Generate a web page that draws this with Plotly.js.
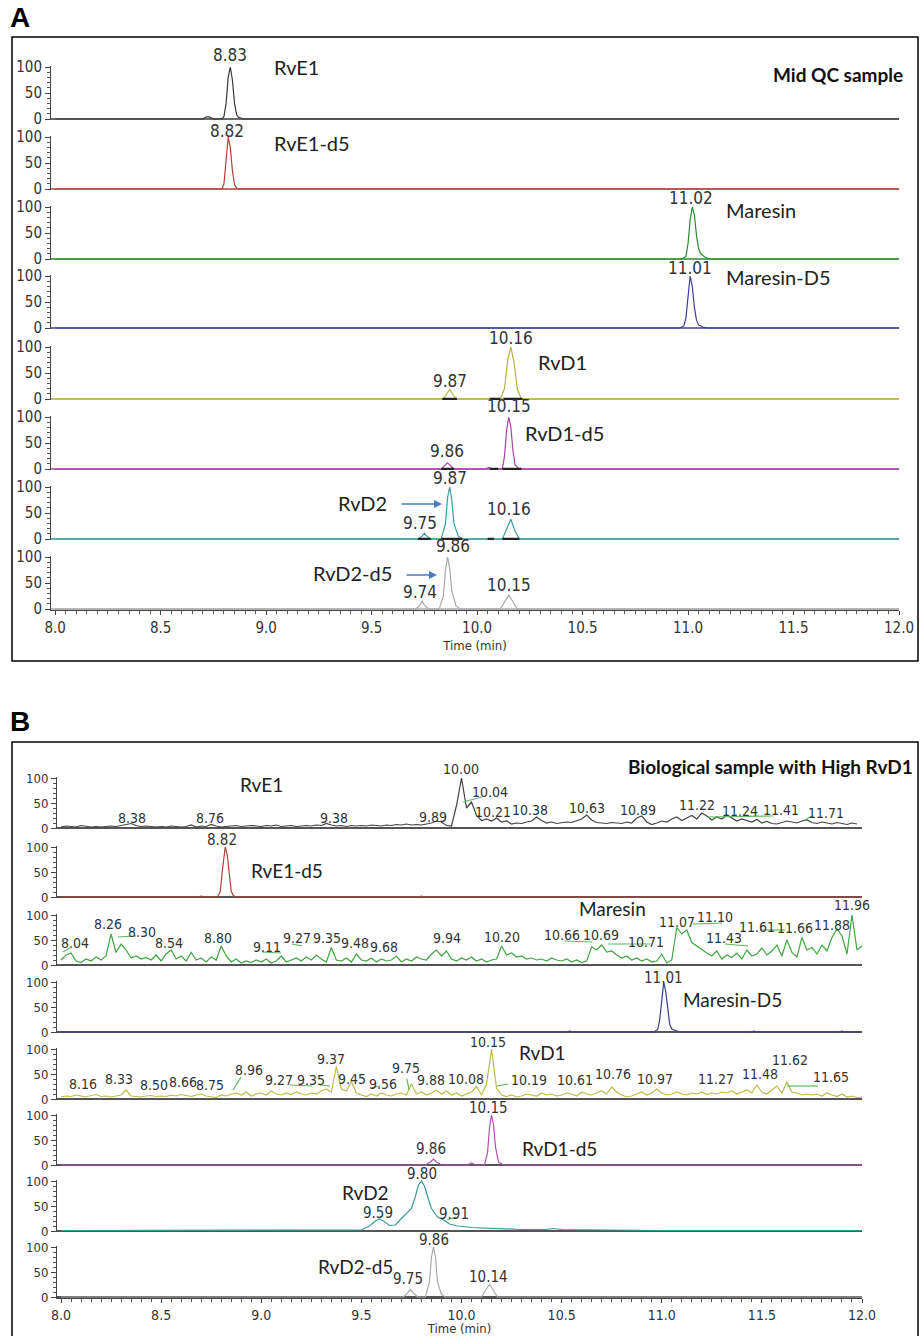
<!DOCTYPE html>
<html><head><meta charset="utf-8">
<script src="https://cdn.plot.ly/plotly-3.0.1.min.js"></script>
<style>html,body{margin:0;padding:0;background:#fff}#chart{width:923px;height:1336px}</style>
</head><body><div id="chart"></div>
<script>
// ================= DATA =================
const compounds = ['RvE1','RvE1-d5','Maresin','Maresin-D5','RvD1','RvD1-d5','RvD2','RvD2-d5'];
const timeTicks = [8.0,8.5,9.0,9.5,10.0,10.5,11.0,11.5,12.0];
const timeTickLabels = ['8.0','8.5','9.0','9.5','10.0','10.5','11.0','11.5','12.0'];
const intensityTicks = [0,50,100];
const intensityTickLabels = ['0','50','100'];
const panelTitleA = 'Mid QC sample';
const panelTitleB = 'Biological sample with High RvD1';
const xTitle = 'Time (min)';

// ---- Panel A (Mid QC sample): time (min) / relative intensity (%) ----
const aRvE1T = [8.0,8.70,8.715,8.73,8.75,8.79,8.80,8.81,8.82,8.83,8.84,8.85,8.86,8.87,8.88,8.89,12.0];
const aRvE1Y = [0,0,4,4,0,0,5,30,80,100,75,30,8,3,2,0,0];
const aRvE1dT = [8.0,8.79,8.80,8.81,8.82,8.83,8.84,8.85,8.86,8.87,12.0];
const aRvE1dY = [0,0,10,55,100,80,35,8,2,0,0];
const aMarT = [8.0,10.97,10.99,11.0,11.01,11.02,11.03,11.04,11.05,11.06,11.08,11.1,12.0];
const aMarY = [0,0,5,30,75,100,85,45,20,10,4,0,0];
const aMarDT = [8.0,10.96,10.98,10.99,11.0,11.01,11.02,11.03,11.04,11.05,11.07,11.09,12.0];
const aMarDY = [0,0,4,20,60,100,80,40,15,6,2,0,0];
const aRvD1T = [8.0,9.84,9.86,9.87,9.88,9.90,10.11,10.13,10.145,10.16,10.175,10.19,10.21,12.0];
const aRvD1Y = [0,0,12,18,12,0,0,20,75,100,70,20,0,0];
const aRvD1dT = [8.0,9.83,9.85,9.86,9.87,9.89,10.04,10.055,10.07,10.12,10.13,10.14,10.15,10.16,10.17,10.18,10.2,12.0];
const aRvD1dY = [0,0,8,12,8,0,0,3,0,0,25,75,100,80,35,8,0,0];
const aRvD2T = [8.0,9.72,9.74,9.75,9.76,9.78,9.83,9.85,9.86,9.87,9.88,9.89,9.91,9.93,10.12,10.14,10.16,10.18,10.2,12.0];
const aRvD2Y = [0,0,6,11,6,0,0,30,80,100,75,30,6,0,0,18,38,15,0,0];
const aRvD2dT = [8.0,9.71,9.73,9.74,9.75,9.77,9.82,9.84,9.85,9.86,9.87,9.88,9.9,9.92,10.11,10.13,10.15,10.17,10.19,12.0];
const aRvD2dY = [0,0,8,15,8,0,0,25,75,100,78,35,6,0,0,15,27,14,0,0];

// Panel A peak labels (retention times)
const aRvE1Peaks = ['8.83'];
const aRvE1dPeaks = ['8.82'];
const aMarPeaks = ['11.02'];
const aMarDPeaks = ['11.01'];
const aRvD1Peaks = ['10.16','9.87'];
const aRvD1dPeaks = ['10.15','9.86'];
const aRvD2Peaks = ['9.87','9.75','10.16'];
const aRvD2dPeaks = ['9.86','9.74','10.15'];

// ---- Panel B (biological sample) ----
// noisy traces: detector sampled every 0.025 min from 8.000 min
const bSampleStart = 8.0;
const bSampleStep = 0.025;
const bRvE1Y = [2,4,3,2,5,3,2,3,2,3,
 4,3,5,6,9,5,3,4,3,2,
 3,2,4,3,2,3,6,2,4,3,
 7,4,2,3,4,5,3,4,5,4,
 3,5,4,6,3,4,5,3,4,5,
 4,6,5,9,6,4,5,3,5,4,
 5,4,6,5,4,6,5,7,6,8,
 6,7,6,8,10,14,12,5,4,45,
 100,40,52,25,15,18,14,20,12,14,
 8,10,9,12,14,22,15,10,12,9,
 10,12,11,14,18,26,16,11,10,9,
 11,10,9,12,10,20,24,12,7,10,
 14,12,18,22,15,20,25,18,30,24,
 16,22,18,26,20,14,18,15,12,17,
 10,13,9,8,11,14,12,10,14,16,
 11,9,12,10,8,11,9,7,10,8];
const bMarY = [10,20,24,8,5,12,8,16,10,18,
 62,25,42,30,14,18,12,15,10,20,
 8,22,30,12,18,8,25,10,14,6,
 16,10,38,18,6,12,4,8,5,10,
 6,12,4,8,18,6,10,14,8,16,
 10,20,12,6,35,10,8,14,6,22,
 10,8,14,6,12,8,10,18,6,12,
 8,16,12,10,22,30,18,28,12,8,
 14,10,16,8,12,6,10,12,38,20,
 24,16,18,12,14,10,12,8,14,10,
 8,12,6,10,5,8,36,30,40,26,
 28,20,14,18,10,14,8,12,6,8,
 22,4,10,75,62,70,45,38,30,24,
 18,28,12,20,15,24,12,30,18,22,
 34,20,28,40,18,50,25,16,55,30,
 35,22,40,28,55,72,58,22,100,30,
 38];
const bRvD1Y = [4,6,5,8,6,4,7,9,5,6,
 4,6,8,18,6,5,4,6,7,5,
 6,5,8,6,9,7,5,8,10,6,
 4,3,8,6,10,12,8,14,6,10,
 12,8,16,10,8,12,9,14,10,8,
 12,10,16,20,14,65,20,16,35,12,
 8,5,10,6,12,8,6,10,12,8,
 30,10,14,8,12,18,10,16,8,12,
 6,10,14,25,8,30,100,22,8,5,
 8,4,6,10,8,6,12,8,10,6,
 8,12,10,6,14,10,8,12,16,10,
 24,14,8,4,6,10,14,8,12,20,
 12,8,10,14,10,8,12,10,14,9,
 12,10,14,12,16,10,14,18,12,28,
 14,10,18,26,12,34,14,12,8,10,
 8,10,6,12,8,5,10,4,6,3,
 4];
// peak-shaped traces
const bRvE1dT = [8.0,8.68,8.7,8.72,8.78,8.795,8.805,8.815,8.82,8.83,8.84,8.85,8.86,8.875,9.78,9.8,9.82,12.0];
const bRvE1dY = [0,0,2,0,0,10,50,90,100,85,45,12,3,0,0,2,0,0];
const bMarDT = [8.0,10.52,10.54,10.56,10.96,10.98,10.99,11.0,11.01,11.02,11.03,11.04,11.05,11.07,11.09,11.44,11.46,11.48,11.88,11.9,11.92,12.0];
const bMarDY = [0,0,2,0,0,5,25,70,100,80,40,15,6,3,0,0,2,0,0,2,0,0];
const bRvD1dT = [8.0,9.82,9.845,9.86,9.875,9.9,10.03,10.05,10.07,10.115,10.13,10.14,10.15,10.16,10.17,10.185,10.21,12.0];
const bRvD1dY = [0,0,6,12,6,0,0,4,0,0,25,75,100,80,35,6,0,0];
const bRvD2T = [8.0,8.5,9.0,9.45,9.5,9.54,9.57,9.59,9.61,9.64,9.67,9.7,9.73,9.75,9.77,9.785,9.80,9.815,9.83,9.85,9.88,9.91,9.94,9.98,10.05,10.15,10.3,10.42,10.46,10.5,10.7,11.0,12.0];
const bRvD2Y = [1,1,1,1,2,10,20,24,20,11,12,25,38,45,70,92,100,90,70,45,28,22,14,10,7,5,3,3,5,3,2,1,1];
const bRvD2dT = [8.0,9.71,9.73,9.745,9.76,9.78,9.82,9.84,9.85,9.86,9.87,9.88,9.9,9.92,10.1,10.12,10.14,10.16,10.18,12.0];
const bRvD2dY = [0,0,8,15,8,0,0,30,80,100,80,30,5,0,0,14,25,13,0,0];

// Panel B peak labels (retention times)
const bRvE1Peaks = ['8.38','8.76','9.38','9.89','10.00','10.04','10.21','10.38','10.63','10.89','11.22','11.24','11.41','11.71'];
const bRvE1dPeaks = ['8.82'];
const bMarPeaks = ['8.04','8.26','8.30','8.54','8.80','9.11','9.27','9.35','9.48','9.68','9.94','10.20','10.66','10.69','10.71','11.07','11.10','11.43','11.61','11.66','11.88','11.96'];
const bMarDPeaks = ['11.01'];
const bRvD1Peaks = ['8.16','8.33','8.50','8.66','8.75','8.96','9.27','9.35','9.37','9.45','9.56','9.75','9.88','10.08','10.15','10.19','10.61','10.76','10.97','11.27','11.48','11.62','11.65'];
const bRvD1dPeaks = ['10.15','9.86'];
const bRvD2Peaks = ['9.80','9.59','9.91'];
const bRvD2dPeaks = ['9.86','9.75','10.14'];

// ================= LAYOUT (positions / styles) =================
const W = 923, H = 1336;
const px = x => x / W, py = y => 1 - y / H;
const NARROW = '"Liberation Sans Narrow", "Arial Narrow", "DejaVu Sans Condensed", sans-serif';
const SANS = 'Lato, "Open Sans", sans-serif';
const rowsA = [119,189,259,328,399,469,539,609]; const hA = 52;
const rowsB = [828,897,965,1032,1099,1165,1231,1297]; const hB = 50;
const yLo = -2, yHi = 102;
const colorsA = ['#3a3a3a','#b0403a','#2e8b2e','#3c3c9c','#b4b43c','#a640a6','#3b9c9c','#a8a8a8'];
const colorsB = ['#444444','#b0403a','#3ea63e','#3c3c8c','#bcbc48','#b050b0','#3b9a9a','#aaaaaa'];

const bGrid = vals => vals.map((_, i) => +(bSampleStart + i * bSampleStep).toFixed(3));
const seriesA = [[aRvE1T,aRvE1Y],[aRvE1dT,aRvE1dY],[aMarT,aMarY],[aMarDT,aMarDY],[aRvD1T,aRvD1Y],[aRvD1dT,aRvD1dY],[aRvD2T,aRvD2Y],[aRvD2dT,aRvD2dY]];
const seriesB = [[bGrid(bRvE1Y),bRvE1Y],[bRvE1dT,bRvE1dY],[bGrid(bMarY),bMarY],[bMarDT,bMarDY],[bGrid(bRvD1Y),bRvD1Y],[bRvD1dT,bRvD1dY],[bRvD2T,bRvD2Y],[bRvD2dT,bRvD2dY]];
const peaksA = [aRvE1Peaks,aRvE1dPeaks,aMarPeaks,aMarDPeaks,aRvD1Peaks,aRvD1dPeaks,aRvD2Peaks,aRvD2dPeaks];
const peaksB = [bRvE1Peaks,bRvE1dPeaks,bMarPeaks,bMarDPeaks,bRvD1Peaks,bRvD1dPeaks,bRvD2Peaks,bRvD2dPeaks];

// label placements (pixel centres) for each row, matching order of peak arrays
const labelPosA = [
  [[230,55]], [[227,131]], [[691,198]], [[690,268]],
  [[511,338],[450,381]], [[509,406],[447,451]],
  [[450,478],[420,523],[509,509]], [[453,546],[420,592],[509,585]]
];
const labelPosB = [
  [[132,818],[210,818],[334,818],[433,817],[461,769],[490,792],[493,812],[530,810],[587,808],[638,810],[697,805],[740,811],[781,810],[826,813]],
  [[222,840]],
  [[75,943],[108,924],[142,932],[169,943],[218,938],[267,947],[297,938],[327,938],[355,943],[384,947],[447,938],[502,937],[562,935],[601,935],[646,942],[677,922],[715,917],[724,938],[757,927],[795,928],[832,925],[852,905]],
  [[663,978]],
  [[83,1084],[119,1079],[154,1085],[183,1082],[210,1085],[249,1070],[279,1080],[311,1080],[331,1059],[352,1079],[383,1084],[406,1068],[431,1080],[466,1079],[488,1042],[529,1080],[575,1080],[613,1074],[655,1079],[716,1079],[760,1074],[790,1060],[831,1077]],
  [[488,1108],[431,1149]],
  [[422,1174],[378,1213],[454,1214]],
  [[434,1240],[408,1279],[488,1277]]
];
const labelSizeB = [14,15,14,15,14,15,15,15];
const nameA = [[272,67,'left'],[272,143,'left'],[724,210,'left'],[724,277,'left'],[536,362,'left'],[523,433,'left'],[362,503,'center'],[352,573,'center']];
const nameB = [[261,785],[287,870],[612,908],[732,999],[542,1052],[559,1148],[365,1192],[355,1266]];
const leaders = [[463,802,482,797],[708,817,773,816],[805,820,812,816],
 [63,952,70,948],[118,937,136,936],[262,952,281,953],[292,944,302,946],[565,941,592,942],[608,944,650,944],[693,924,722,923],[725,944,748,946],[760,930,785,930],
 [233,1090,241,1077],[290,1085,312,1086],[320,1085,330,1086],[370,1088,380,1086],[407,1079,409,1090],[497,1086,508,1084],[787,1086,818,1086],
 [447,1220,456,1217]];
const integBars = [[5,9.835,9.905],[5,10.06,10.11],[5,10.125,10.215],[6,9.83,9.89],[6,10.06,10.10],[6,10.12,10.21],[7,9.72,9.78],[7,9.83,9.93],[7,10.05,10.08],[7,10.12,10.2]];

const traces = [];
const layout = {
  width: W, height: H, margin: {l:0,r:0,t:0,b:0}, showlegend: false,
  paper_bgcolor: '#ffffff', plot_bgcolor: 'rgba(0,0,0,0)',
  shapes: [], annotations: []
};

function yAxis(b, h, xa, fsize) {
  return {
    domain: [py(b + (0 - yLo) * h / 100), py(b - yHi * h / 100)],
    anchor: xa, range: [yLo, yHi],
    tickmode: 'array', tickvals: intensityTicks, ticktext: intensityTickLabels,
    ticks: 'outside', ticklen: 5, tickwidth: 1, tickcolor: '#444',
    minor: {tickmode: 'linear', tick0: 0, dtick: 10, ticks: 'outside', ticklen: 3, tickcolor: '#555', tickwidth: 1},
    showline: true, linecolor: '#444', linewidth: 1, showgrid: false, zeroline: false, fixedrange: true,
    tickfont: {family: NARROW, size: fsize, color: '#333'}
  };
}
function xAxis(d0, d1, anchor, tsize) {
  return {
    domain: [px(d0), px(d1)], range: [7.98, 12.0], anchor: anchor,
    tickmode: 'array', tickvals: timeTicks, ticktext: timeTickLabels,
    ticks: 'outside', ticklen: 4, tickwidth: 1, tickcolor: '#444',
    minor: {tickmode: 'linear', tick0: 8, dtick: 0.05, ticks: 'outside', ticklen: 3, tickcolor: '#555', tickwidth: 1},
    showline: true, linecolor: '#444', linewidth: 1.2, showgrid: false, zeroline: false, fixedrange: true,
    tickfont: {family: NARROW, size: tsize, color: '#333'},
    title: {text: xTitle, font: {family: NARROW, size: 13, color: '#333'}, standoff: 4}
  };
}
layout.xaxis = xAxis(51, 899, 'y8', 15);
layout.xaxis2 = xAxis(57, 862, 'y16', 14);

function addPanel(series, rows, h, colors, xa, offset, peaks, pos, baseColor, baseW, sizes, ysize) {
  series.forEach((s, i) => {
    const n = offset + i + 1;
    const yid = n === 1 ? 'y' : 'y' + n;
    layout[n === 1 ? 'yaxis' : 'yaxis' + n] = yAxis(rows[i], h, xa, ysize);
    layout.shapes.push({type: 'line', xref: xa, yref: yid, x0: 7.98, x1: 12.0, y0: 0, y1: 0, layer: 'below',
      line: {color: baseColor || colors[i], width: baseW}});
    traces.push({type: 'scatter', mode: 'lines', x: s[0], y: s[1], xaxis: xa, yaxis: yid,
      line: {color: colors[i], width: 1.2}, hoverinfo: 'skip', cliponaxis: true});
    peaks[i].forEach((txt, k) => {
      const p = pos[i][k];
      layout.annotations.push({xref: 'paper', yref: 'paper', x: px(p[0]), y: py(p[1]), text: txt, showarrow: false,
        xanchor: 'center', yanchor: 'middle', font: {family: NARROW, size: sizes[i], color: '#333'}});
    });
  });
}
addPanel(seriesA, rowsA, hA, colorsA, 'x', 0, peaksA, labelPosA, null, 1.6, [17,17,17,17,17,17,17,17], 15);
addPanel(seriesB, rowsB, hB, colorsB, 'x2', 8, peaksB, labelPosB, '#555555', 2.2, labelSizeB, 13);

// compound names
compounds.forEach((c, i) => {
  const a = nameA[i];
  layout.annotations.push({xref:'paper', yref:'paper', x: px(a[0]), y: py(a[1]), text: c, showarrow: false,
    xanchor: a[2], yanchor: 'middle', font: {family: SANS, size: 20, color: '#222'}});
  const b = nameB[i];
  layout.annotations.push({xref:'paper', yref:'paper', x: px(b[0]), y: py(b[1]), text: c, showarrow: false,
    xanchor: 'center', yanchor: 'middle', font: {family: SANS, size: 19, color: '#222'}});
});
// arrows for RvD2 / RvD2-d5 in panel A
[[442,504,-42],[437,575,-32]].forEach(a => {
  layout.annotations.push({xref:'paper', yref:'paper', x: px(a[0]), y: py(a[1]), ax: a[2], ay: 0, text: '',
    showarrow: true, arrowhead: 2, arrowsize: 1, arrowwidth: 1.6, arrowcolor: '#4a7cc4'});
});
// panel titles and letters
layout.annotations.push({xref:'paper', yref:'paper', x: px(905), y: py(75), text: '<b>' + panelTitleA + '</b>', showarrow: false,
  xanchor: 'right', yanchor: 'middle', font: {family: SANS, size: 19, color: '#111'}});
layout.annotations.push({xref:'paper', yref:'paper', x: px(915), y: py(766), text: '<b>' + panelTitleB + '</b>', showarrow: false,
  xanchor: 'right', yanchor: 'middle', font: {family: SANS, size: 19, color: '#111'}});
layout.annotations.push({xref:'paper', yref:'paper', x: px(20), y: py(18), text: '<b>A</b>', showarrow: false,
  xanchor: 'center', yanchor: 'middle', font: {family: '"Liberation Sans", Arial, sans-serif', size: 28, color: '#000'}});
layout.annotations.push({xref:'paper', yref:'paper', x: px(20), y: py(721), text: '<b>B</b>', showarrow: false,
  xanchor: 'center', yanchor: 'middle', font: {family: '"Liberation Sans", Arial, sans-serif', size: 28, color: '#000'}});
// frames
layout.shapes.push({type:'rect', xref:'paper', yref:'paper', x0: px(12), x1: px(918), y0: py(37), y1: py(661), line:{color:'#000', width:1.5}});
layout.shapes.push({type:'rect', xref:'paper', yref:'paper', x0: px(12), x1: px(918), y0: py(742), y1: py(1345), line:{color:'#000', width:1.5}});
// green leader lines (panel B)
leaders.forEach(l => layout.shapes.push({type:'line', xref:'paper', yref:'paper', x0: px(l[0]), y0: py(l[1]), x1: px(l[2]), y1: py(l[3]),
  line:{color:'#5cb85c', width:1.2}}));
// integration markers (panel A)
integBars.forEach(b => layout.shapes.push({type:'line', xref:'x', yref:'y' + b[0], x0: b[1], x1: b[2], y0: 0, y1: 0,
  line:{color:'#222', width:2.5}}));

Plotly.newPlot('chart', traces, layout, {staticPlot: true, displayModeBar: false});
</script></body></html>
